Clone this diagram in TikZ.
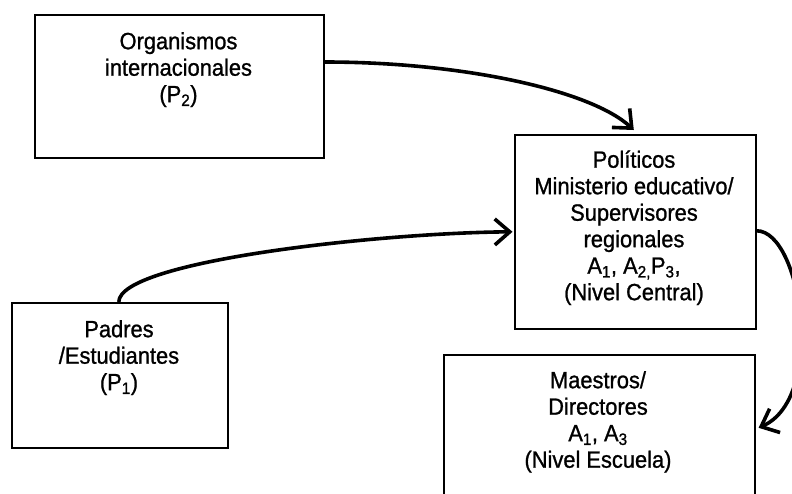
\documentclass[tikz,border=0pt]{standalone}
\usepackage{fontspec}
\setmainfont{Liberation Sans}[FakeStretch=0.93,FakeBold=1]
\usetikzlibrary{arrows.meta}
\tikzset{
  box/.style={draw=black, line width=1.6pt, rectangle, inner sep=0pt, anchor=north west},
  lbl/.style={anchor=north, inner sep=0pt, align=center, font=\fontsize{23.5}{26.5}\selectfont},
  flow/.style={line width=3.6pt, -{Straight Barb[length=15pt,width=26pt]}},
}
\newcommand{\fl}{\rule{0pt}{22pt}}
\begin{document}
\begin{tikzpicture}[x=1pt,y=-1pt]
\useasboundingbox (0,0) rectangle (792,493);
\fill[white] (0,0) rectangle (792,493);
\clip (0,0) rectangle (792,493);
% boxes
\node[box, minimum width=289pt, minimum height=143pt] (org) at (34,14) {};
\node[box, minimum width=241pt, minimum height=194pt] (pol) at (514,134) {};
\node[box, minimum width=311pt, minimum height=160pt] (mae) at (443,354) {};
\node[box, minimum width=216pt, minimum height=145pt] (pad) at (11,302) {};
% texts
\node[lbl] (torg) at (178.5,27) {\fl Organismos\\internacionales\\(P\textsubscript{2})};
\node[lbl] (tpol) at (634,145.5) {\fl Políticos\\Ministerio educativo/\\Supervisores\\regionales\\A\textsubscript{1}, A\textsubscript{2,}P\textsubscript{3},\\(Nivel Central)};
\node[lbl] (tmae) at (598,366) {\fl Maestros/\\Directores\\A\textsubscript{1}, A\textsubscript{3}\\(Nivel Escuela)};
\node[lbl] (tpad) at (119,315) {\fl Padres\\/Estudiantes\\(P\textsubscript{1})};
% connectors
\draw[flow] ([yshift=-48pt]org.north east) .. controls +(137,0) and +(-43,-40) .. ([xshift=-1.5pt,yshift=4pt]pol.north);
\draw[flow] ([xshift=-1pt]pad.north) .. controls +(0,-41) and +(-132,1) .. ([xshift=-1.5pt]pol.west);
\draw[flow] ([yshift=1pt]pol.east) .. controls +(45,0) and +(68,-30) .. ([xshift=3pt,yshift=7pt]mae.east);
\end{tikzpicture}
\end{document}
